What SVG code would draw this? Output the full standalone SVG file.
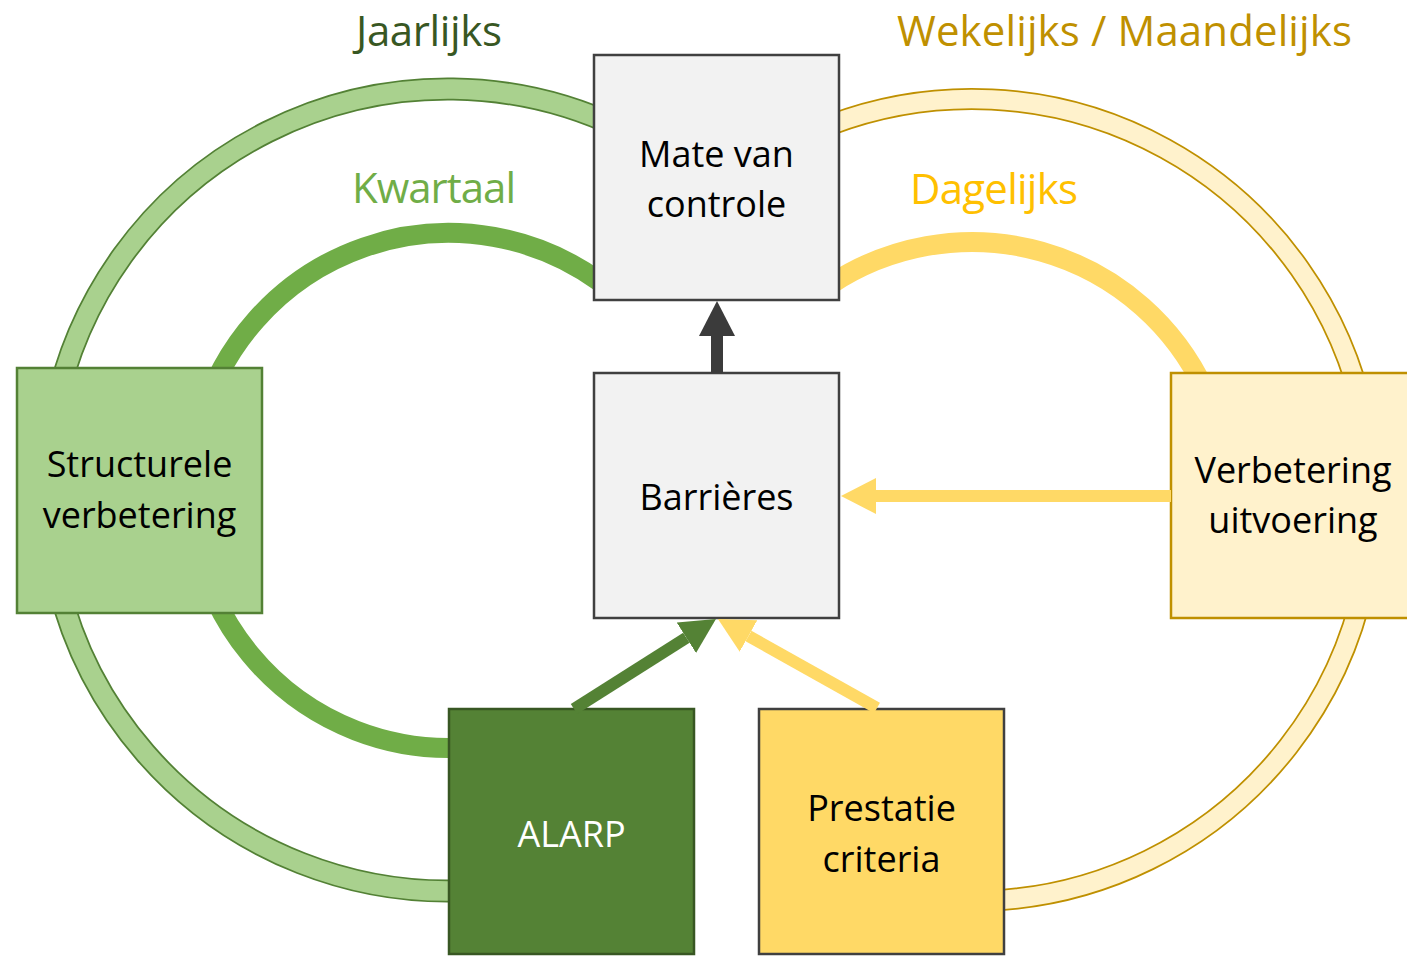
<svg xmlns="http://www.w3.org/2000/svg" width="1407" height="956" viewBox="0 0 1407 956">
  <style>
    text { font-family: "Open Sans", "Noto Sans", "Liberation Sans", sans-serif; }
    .lbl { font-size: 36px; fill: #000000; text-anchor: middle; }
    .head { font-size: 42px; }
    .box { stroke-width: 2.5; }
    .ring { fill: none; }
    .shaft { fill: none; stroke-width: 12; stroke-linecap: butt; }
  </style>
  <defs>
    <marker id="headDark" viewBox="0 0 35 36" refX="0" refY="18" markerWidth="35" markerHeight="36" markerUnits="userSpaceOnUse" orient="auto">
      <path d="M0,0 L35,18 L0,36 Z" fill="#3b3b3b"/>
    </marker>
    <marker id="headGreen" viewBox="0 0 35 36" refX="0" refY="18" markerWidth="35" markerHeight="36" markerUnits="userSpaceOnUse" orient="auto">
      <path d="M0,0 L35,18 L0,36 Z" fill="#548235"/>
    </marker>
    <marker id="headYellow" viewBox="0 0 35 36" refX="0" refY="18" markerWidth="35" markerHeight="36" markerUnits="userSpaceOnUse" orient="auto">
      <path d="M0,0 L35,18 L0,36 Z" fill="#ffd966"/>
    </marker>
  </defs>

  <rect x="0" y="0" width="1407" height="956" fill="#ffffff"/>

  <!-- cycle rings -->
  <g id="rings">
    <path class="ring" d="M620,127.8 A401,401 0 1 0 470,890.4" stroke="#538135" stroke-width="23"/>
    <path class="ring" d="M620,127.8 A401,401 0 1 0 470,890.4" stroke="#a9d18e" stroke-width="19.5"/>
    <path class="ring" d="M600,282 A257.5,257.5 0 1 0 470,747.1" stroke="#70ad47" stroke-width="20"/>
    <path class="ring" d="M830,125 A401,401 0 1 1 990,900.6" stroke="#bf9000" stroke-width="22"/>
    <path class="ring" d="M830,125 A401,401 0 1 1 990,900.6" stroke="#fff2cc" stroke-width="18.5"/>
    <path class="ring" d="M830,284.8 A257,257 0 0 1 1204.7,390" stroke="#ffd966" stroke-width="20"/>
  </g>

  <!-- labels of the rings -->
  <g id="ring-labels">
    <text class="head" x="356" y="46" fill="#385723" textLength="146">Jaarlijks</text>
    <text class="head" x="897" y="46" fill="#bf9000" textLength="455">Wekelijks / Maandelijks</text>
    <text class="head" x="352" y="203" fill="#70ad47" textLength="164">Kwartaal</text>
    <text class="head" x="910" y="204" fill="#ffc000" textLength="168">Dagelijks</text>
  </g>

  <g id="node-mate">
    <rect class="box" x="594" y="55" width="245" height="245" fill="#f2f2f2" stroke="#404040"/>
    <text class="lbl" x="716.5" y="167">Mate van</text>
    <text class="lbl" x="716.5" y="217">controle</text>
  </g>
  <g id="node-barrieres">
    <rect class="box" x="594" y="373" width="245" height="245" fill="#f2f2f2" stroke="#404040"/>
    <text class="lbl" x="716.5" y="510">Barrières</text>
  </g>
  <g id="node-structurele">
    <rect class="box" x="17" y="368" width="245" height="245" fill="#a9d18e" stroke="#538135"/>
    <text class="lbl" x="139.5" y="477">Structurele</text>
    <text class="lbl" x="139.5" y="528">verbetering</text>
  </g>
  <g id="node-verbetering">
    <rect class="box" x="1171" y="373" width="245" height="245" fill="#fff2cc" stroke="#bf9000"/>
    <text class="lbl" x="1293" y="483">Verbetering</text>
    <text class="lbl" x="1293" y="533">uitvoering</text>
  </g>
  <g id="node-alarp">
    <rect class="box" x="449" y="709" width="245" height="245" fill="#548235" stroke="#385723"/>
    <text class="lbl" x="571.5" y="847" style="fill:#ffffff">ALARP</text>
  </g>
  <g id="node-prestatie">
    <rect class="box" x="759" y="709" width="245" height="245" fill="#ffd966" stroke="#404040"/>
    <text class="lbl" x="881.5" y="821">Prestatie</text>
    <text class="lbl" x="881.5" y="872">criteria</text>
  </g>

  <g id="connectors">
    <path class="shaft" d="M717,373 L717,336" stroke="#3b3b3b" marker-end="url(#headDark)"/>
    <path class="shaft" d="M574,709 L686.4,637.8" stroke="#548235" marker-end="url(#headGreen)"/>
    <path class="shaft" d="M877,708 L748.5,636" stroke="#ffd966" marker-end="url(#headYellow)"/>
    <path class="shaft" d="M1171,496 L876,496" stroke="#ffd966" marker-end="url(#headYellow)"/>
  </g>
</svg>
